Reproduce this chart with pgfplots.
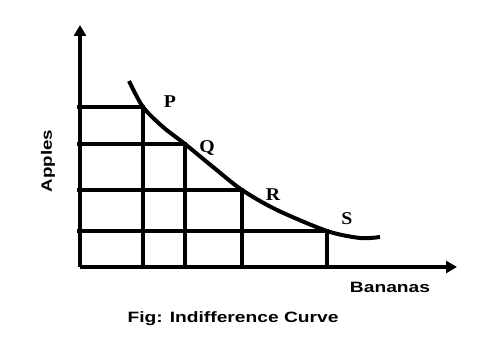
\documentclass[border=0pt]{standalone}
\usepackage{fontspec}
\setmainfont{Liberation Serif}
\setsansfont{Liberation Sans}
\usepackage{graphicx}
\usepackage{pgfplots}
\pgfplotsset{compat=1.18}
\usetikzlibrary{arrows.meta}
\begin{document}
\begin{tikzpicture}
\begin{axis}[
  at={(0pt,0pt)}, anchor=south west,
  scale only axis, width=377pt, height=242pt,
  xmin=0, xmax=377, ymin=0, ymax=242,
  axis lines=left,
  xtick=\empty, ytick=\empty,
  clip=false,
  every outer x axis line/.append style={line width=4pt,-{Triangle[width=12pt,length=11pt]}},
  every outer y axis line/.append style={line width=4pt,-{Triangle[width=12pt,length=11pt]}},
]
% guide lines
\addplot[black, line width=3.6pt] coordinates {(-3,160) (63,160) (63,0)};
\addplot[black, line width=3.6pt] coordinates {(-3,123) (105,123) (105,0)};
\addplot[black, line width=3.6pt] coordinates {(-3,77) (162,77) (162,0)};
\addplot[black, line width=3.6pt] coordinates {(-3,36) (247,36) (247,0)};
% indifference curve
\addplot[black, line width=4pt, smooth, tension=0.5] coordinates {
 (49,186) (63,160) (83,140) (105,123) (133,100) (162,77) (197,57) (247,36) (280,29) (300,30)};
\node[font=\fontsize{18}{20}\selectfont\rmfamily\bfseries] at (axis cs:90,165) {\scalebox{1.1}[1]{P}};
\node[font=\fontsize{18}{20}\selectfont\rmfamily\bfseries] at (axis cs:127,119) {\scalebox{1.1}[1]{Q}};
\node[font=\fontsize{18}{20}\selectfont\rmfamily\bfseries] at (axis cs:193,72) {\scalebox{1.1}[1]{R}};
\node[font=\fontsize{18}{20}\selectfont\rmfamily\bfseries] at (axis cs:267,48) {\scalebox{1.1}[1]{S}};
\end{axis}
\node[anchor=base, font=\fontsize{15}{17}\selectfont\sffamily\bfseries] at (310pt,-26pt) {\scalebox{1.28}[1]{Bananas}};
\node[anchor=base, rotate=90, font=\fontsize{15}{17}\selectfont\sffamily\bfseries] at (-28pt,106pt) {\scalebox{1.25}[1]{Apples}};
\node[anchor=base, font=\fontsize{15}{17}\selectfont\sffamily\bfseries] at (153pt,-56pt) {\scalebox{1.28}[1]{Fig: Indifference Curve}};
\path[use as bounding box] (-80pt,-85pt) rectangle (420pt,267pt);
\end{tikzpicture}
\end{document}
